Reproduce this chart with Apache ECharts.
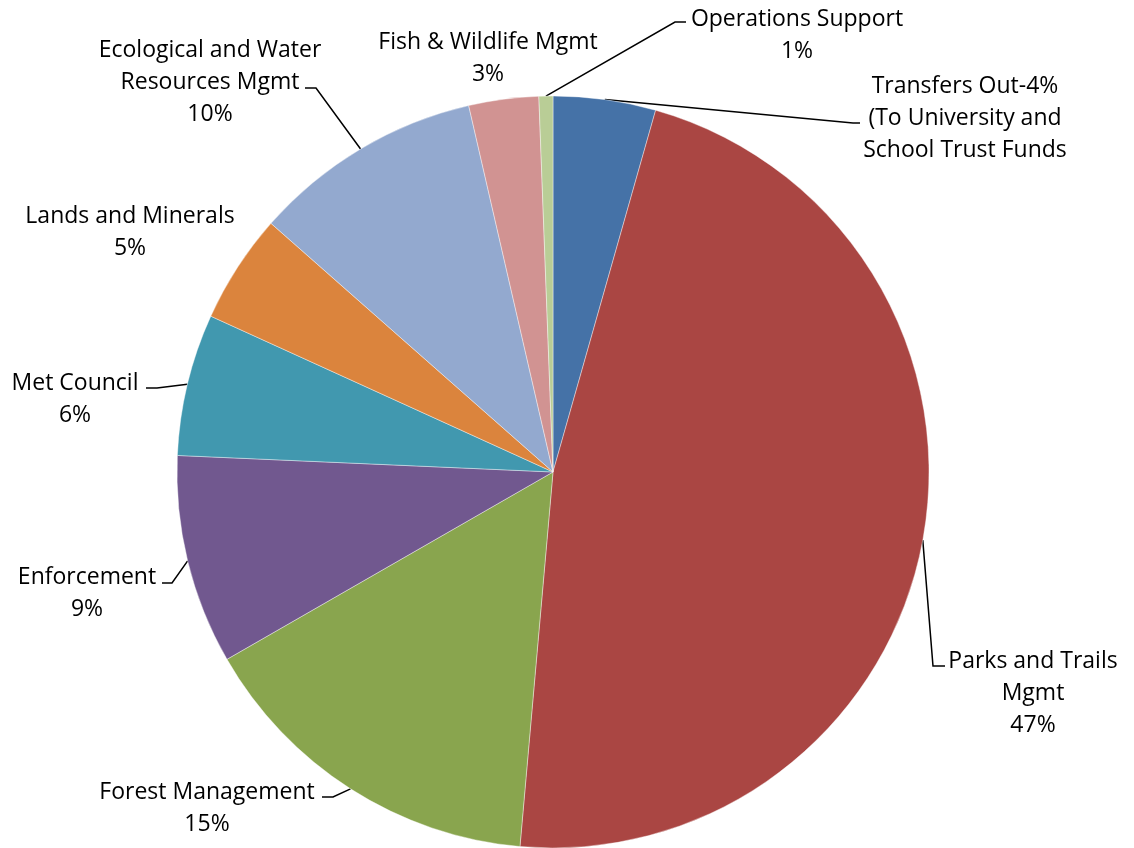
<!DOCTYPE html>
<html>
<head>
<meta charset="utf-8">
<script src="https://cdn.jsdelivr.net/npm/echarts@6/dist/echarts.min.js"></script>
<style>
html,body{margin:0;padding:0;background:#fff;}
#chart{width:1134px;height:848px;}
</style>
</head>
<body>
<div id="chart"></div>
<script>
// ---- data ----
const categories = [
  "Transfers Out",
  "Parks and Trails Mgmt",
  "Forest Management",
  "Enforcement",
  "Met Council",
  "Lands and Minerals",
  "Ecological and Water Resources Mgmt",
  "Fish & Wildlife Mgmt",
  "Operations Support"
];
const values = [4.4, 47.0, 15.3, 9.0, 6.1, 4.7, 9.9, 3.0, 0.6];
const labelNames = [
  "Transfers Out-{p}\n(To University and\nSchool Trust Funds",
  "Parks and Trails\nMgmt\n{p}",
  "Forest Management\n{p}",
  "Enforcement\n{p}",
  "Met Council\n{p}",
  "Lands and Minerals\n{p}",
  "Ecological and Water\nResources Mgmt\n{p}",
  "Fish & Wildlife Mgmt\n{p}",
  "Operations Support\n{p}"
];

// ---- styling / layout ----
const colors = ["#4572A7","#AA4643","#89A54E","#71588F","#4198AF","#DB843D","#93A9CF","#D19392","#B9CD96"];
const labelPos = [
  {x:965, y:118, line:[[853,123],[860,123]]},
  {x:1033, y:693, line:[[933,666],[945,666]]},
  {x:207, y:808, line:[[333,797],[322,797]]},
  {x:87, y:593, line:[[172,583],[162,583]]},
  {x:75, y:399, line:[[157,388],[146,388]]},
  {x:130, y:232, line:null},
  {x:210, y:82, line:[[316,88],[305,88]]},
  {x:488, y:58, line:null},
  {x:797, y:35, line:[[675,22],[686,22]]}
];

const total = values.reduce((a,b)=>a+b,0);
const chart = echarts.init(document.getElementById('chart'), null, {renderer:'canvas'});
chart.setOption({
  animation:false,
  backgroundColor:'#ffffff',
  series:[{
    type:'pie',
    center:[553,472],
    radius:376,
    startAngle:90,
    clockwise:true,
    avoidLabelOverlap:false,
    data: categories.map((c,i)=>({
      name:c, value:values[i], itemStyle:{color:colors[i]},
      labelLine:{show: !!labelPos[i].line}
    })),
    itemStyle:{borderColor:'#ffffff', borderWidth:0.4},
    label:{
      show:true,
      position:'outside',
      fontFamily:'Open Sans',
      fontSize:23,
      lineHeight:32,
      color:'#000000',
      align:'center',
      formatter:function(p){
        const pct = Math.round(values[p.dataIndex]/total*100) + '%';
        return labelNames[p.dataIndex].replace('{p}', pct);
      }
    },
    labelLine:{show:true, lineStyle:{color:'#000000', width:1.5}, length:20, length2:10},
    labelLayout:function(params){
      const lp = labelPos[params.dataIndex];
      const out = {x:lp.x, y:lp.y, align:'center', verticalAlign:'middle'};
      if (lp.line && params.labelLinePoints) {
        out.labelLinePoints = [params.labelLinePoints[0]].concat(lp.line);
      }
      return out;
    },
    emphasis:{disabled:true}
  }]
});
</script>
</body>
</html>
